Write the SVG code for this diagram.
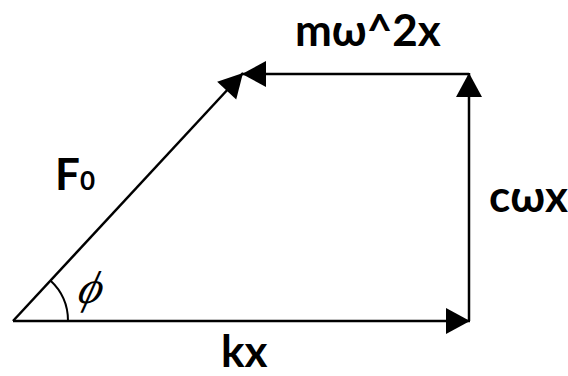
<svg xmlns="http://www.w3.org/2000/svg" width="568" height="376" viewBox="0 0 568 376">
  <defs>
    <marker id="ah" markerUnits="userSpaceOnUse" markerWidth="26" markerHeight="26" refX="24" refY="13" orient="auto" overflow="visible">
      <path d="M0,0 L24,13 L0,26 Z" fill="#000"/>
    </marker>
    <style>
      .conn { stroke: #000; stroke-width: 2.5; fill: none; marker-end: url(#ah); }
      .lbl { font-family: Lato, "Open Sans", "Liberation Sans", sans-serif; font-weight: bold; font-size: 44px; fill: #000; }
      .ang { stroke: #000; stroke-width: 2; fill: none; }
      .phi { font-family: "Liberation Serif", "DejaVu Serif", serif; font-style: italic; font-size: 46px; fill: #000; }
    </style>
  </defs>
  <rect width="568" height="376" fill="#fff"/>
  <g id="connectors">
    <line class="conn" x1="13" y1="321" x2="470" y2="321"/>
    <line class="conn" x1="469" y1="321" x2="469" y2="73"/>
    <line class="conn" x1="469" y1="74" x2="242" y2="74"/>
    <line class="conn" x1="13" y1="321" x2="243" y2="73"/>
  </g>
  <g id="angle">
    <path class="ang" d="M68,321 A55,55 0 0 0 50.4,280.6"/>
    <text class="phi" x="76" y="303" transform="translate(88,303) skewX(-15) translate(-88,-303)">ϕ</text>
  </g>
  <g id="label-kx"><text class="lbl" x="221" y="367" font-size="42px">kx</text></g>
  <g id="label-cwx"><text class="lbl" x="489" y="212">cωx</text></g>
  <g id="label-mw2x"><text class="lbl" x="295" y="46">mω^2x</text></g>
  <g id="label-F0"><text class="lbl" x="55" y="190">F<tspan font-size="26px">0</tspan></text></g>
</svg>
